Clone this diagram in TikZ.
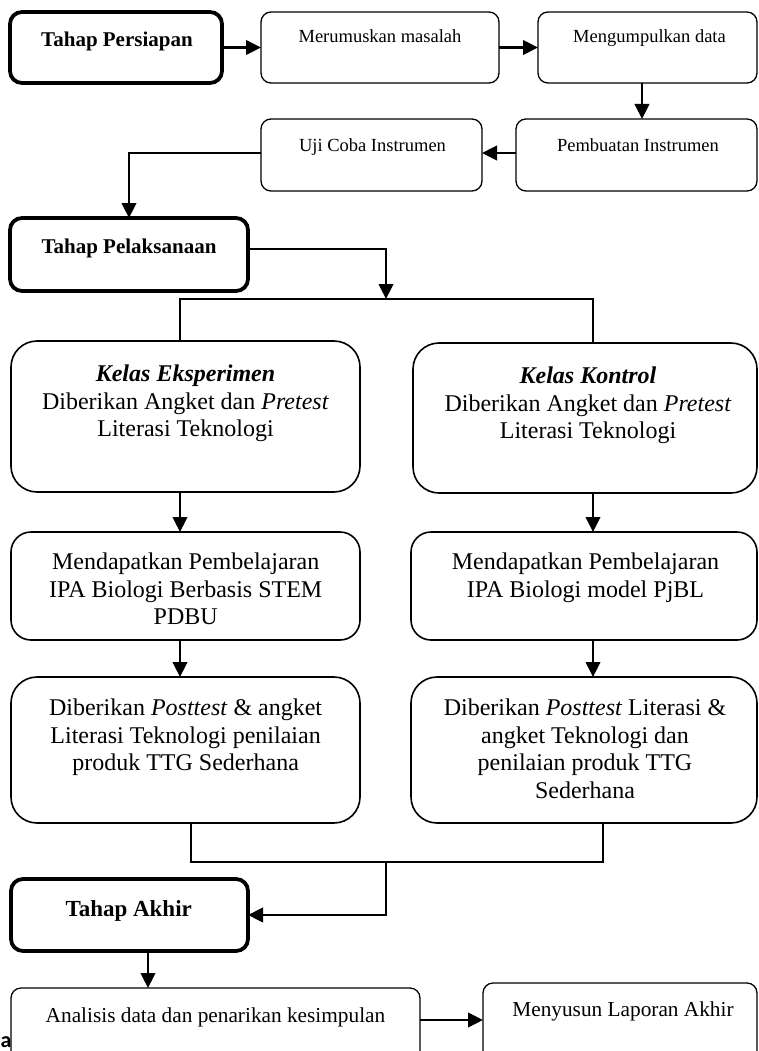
\documentclass[tikz,border=0pt]{standalone}
\usepackage{fontspec}
\setmainfont{Liberation Serif}
\newfontfamily\carlitofont{Carlito}
\usetikzlibrary{arrows.meta}
\begin{document}
\begin{tikzpicture}[x=1pt,y=-1pt,
  box/.style={draw, line width=1.3pt, rounded corners=10pt, anchor=north west, inner sep=0pt, outer sep=0pt},
  bigbox/.style={draw, line width=1.6pt, rounded corners=26pt, anchor=north west, inner sep=0pt, outer sep=0pt},
  midbox/.style={draw, line width=1.6pt, rounded corners=20pt, anchor=north west, inner sep=0pt, outer sep=0pt},
  stagebox/.style={draw, line width=3.8pt, rounded corners=12pt, anchor=north west, inner sep=0pt, outer sep=0pt},
  smalltxt/.style={anchor=north, inner sep=0pt, align=center, font=\fontsize{18.5}{22}\selectfont},
  midtxt/.style={anchor=north, inner sep=0pt, align=center, font=\fontsize{21.3}{25}\selectfont},
  stagetxt/.style={anchor=north, inner sep=0pt, align=center, font=\fontsize{21}{25}\selectfont\bfseries},
  bigtxt/.style={anchor=north, inner sep=0pt, align=center, font=\fontsize{24}{27.6}\selectfont},
  arr/.style={line width=2.4pt, -{Triangle[length=15pt,width=14.5pt]}},
  conn/.style={line width=1.6pt}
]
\useasboundingbox (0,0) rectangle (758,1051);
\clip (0,0) rectangle (758,1051);

% ---- boxes ----
\node[stagebox, minimum width=212, minimum height=71] (persiapan) at (10,12) {};
\node[box, minimum width=238, minimum height=71] (merumuskan) at (261,12) {};
\node[box, minimum width=219, minimum height=71] (mengumpulkan) at (538,12) {};
\node[box, minimum width=241, minimum height=72] (pembuatan) at (516,119) {};
\node[box, minimum width=221, minimum height=72] (uji) at (261,119) {};
\node[stagebox, minimum width=238, minimum height=73] (pelaksanaan) at (10,218) {};
\node[bigbox, minimum width=349, minimum height=151] (eksperimen) at (11,341) {};
\node[bigbox, minimum width=344, minimum height=150] (kontrol) at (413,343) {};
\node[midbox, minimum width=349, minimum height=108] (mendL) at (11,532) {};
\node[midbox, minimum width=346, minimum height=108] (mendR) at (411,532) {};
\node[bigbox, minimum width=349, minimum height=146] (postL) at (11,677) {};
\node[bigbox, minimum width=346, minimum height=146] (postR) at (411,677) {};
\node[stagebox, minimum width=237, minimum height=72] (akhir) at (11,879) {};
\node[box, minimum width=409, minimum height=90] (analisis) at (11,988) {};
\node[box, minimum width=274, minimum height=90] (menyusun) at (483,983) {};

% ---- texts ----
\node[stagetxt] (tPersiapan) at (117,31.7) {Tahap Persiapan};
\node[smalltxt] (tMerumuskan) at (380,29.4) {Merumuskan masalah};
\node[smalltxt] (tMengumpulkan) at (649.5,29.4) {Mengumpulkan data};
\node[smalltxt] (tUji) at (372.5,138.4) {Uji Coba Instrumen};
\node[smalltxt] (tPembuatan) at (638,138.4) {Pembuatan Instrumen};
\node[stagetxt] (tPelaksanaan) at (129,238.7) {Tahap Pelaksanaan};
\node[bigtxt] (tEksperimen) at (185.5,364.6) {\textbf{\textit{Kelas Eksperimen}}\\Diberikan Angket dan \textit{Pretest}\\Literasi Teknologi};
\node[bigtxt] (tKontrol) at (588,366.6) {\textbf{\textit{Kelas Kontrol}}\\Diberikan Angket dan \textit{Pretest}\\Literasi Teknologi};
\node[bigtxt] (tMendL) at (185.7,552.6) {Mendapatkan Pembelajaran\\IPA Biologi Berbasis STEM\\PDBU};
\node[bigtxt] (tMendR) at (585.5,552.6) {Mendapatkan Pembelajaran\\IPA Biologi model PjBL};
\node[bigtxt] (tPostL) at (185.6,698.6) {Diberikan \textit{Posttest} \& angket\\Literasi Teknologi penilaian\\produk TTG Sederhana};
\node[bigtxt] (tPostR) at (585,698.6) {Diberikan \textit{Posttest} Literasi \&\\angket Teknologi dan\\penilaian produk TTG\\Sederhana};
\node[stagetxt, font=\fontsize{23}{27}\selectfont\bfseries] (tAkhir) at (128.7,900.4) {Tahap Akhir};
\node[midtxt] (tAnalisis) at (215.5,1007.5) {Analisis data dan penarikan kesimpulan};
\node[midtxt] (tMenyusun) at (623,1001.5) {Menyusun Laporan Akhir};
\node[anchor=base west, inner sep=0pt, font=\fontsize{22}{22}\selectfont\carlitofont\bfseries] (stray) at (0.5,1047) {a};

% ---- connectors ----
\draw[arr] (persiapan.east) -- (merumuskan.west);
\draw[arr] (merumuskan.east) -- (mengumpulkan.west);
\draw[arr] ([xshift=-5.5pt]mengumpulkan.south) -- ([xshift=-5.5pt]mengumpulkan.south |- pembuatan.north);
\draw[arr] ([yshift=2pt]pembuatan.west) -- ([yshift=2pt]uji.east);
\draw[arr] ([yshift=2pt]uji.west) -| (pelaksanaan.north);

\coordinate (split) at (386,299);
\coordinate (sL) at (180,299);
\coordinate (sR) at (593,299);
\draw[arr] ([yshift=5.5pt]pelaksanaan.east) -| (split);
\draw[conn] (sL |- eksperimen.north) -- (sL) -- (sR) -- (sR |- kontrol.north);

\draw[arr] (sL |- eksperimen.south) -- (sL |- mendL.north);
\draw[arr] (sR |- kontrol.south) -- (sR |- mendR.north);
\draw[arr] (sL |- mendL.south) -- (sL |- postL.north);
\draw[arr] (sR |- mendR.south) -- (sR |- postR.north);

\coordinate (jL) at (191,862);
\coordinate (jR) at (603,862);
\coordinate (jM) at (386,862);
\draw[conn] (jL |- postL.south) -- (jL) -- (jR) -- (jR |- postR.south);
\draw[arr] (jM) |- (akhir.east);

\coordinate (aX) at (148,951);
\draw[arr] (aX |- akhir.south) -- (aX |- analisis.north);
\draw[arr] ([yshift=13pt]analisis.east) -- ([yshift=13pt]analisis.east -| menyusun.west);
\end{tikzpicture}
\end{document}
